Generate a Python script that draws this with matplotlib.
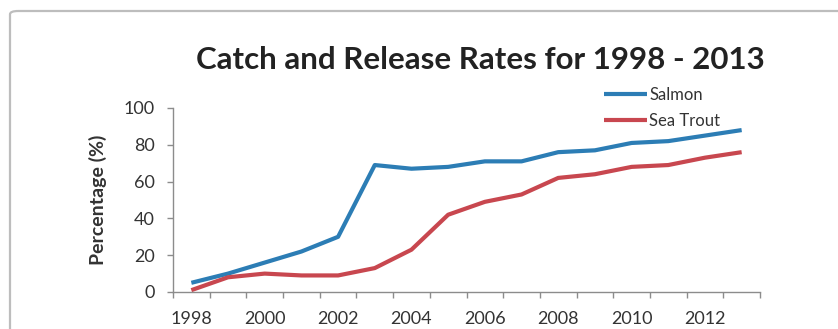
import numpy as np
import matplotlib
matplotlib.use("Agg")
import matplotlib.pyplot as plt
from matplotlib.patches import FancyBboxPatch

# data
years = [1998, 1999, 2000, 2001, 2002, 2003, 2004, 2005,
         2006, 2007, 2008, 2009, 2010, 2011, 2012, 2013]
salmon = [5, 10, 16, 22, 30, 69, 67, 68, 71, 71, 76, 77, 81, 82, 85, 88]
sea_trout = [1, 8, 10, 9, 9, 13, 23, 42, 49, 53, 62, 64, 68, 69, 73, 76]
series_names = ["Salmon", "Sea Trout"]
yticks = [0, 20, 40, 60, 80, 100]

plt.rcParams['font.family'] = ['Lato', 'DejaVu Sans']

W, H = 838, 329
fig = plt.figure(figsize=(W / 100, H / 100), dpi=100)

# chart area border (cropped screenshot: only top and left edges visible)
border = FancyBboxPatch((10 / W, -0.2), 1.2, 1 - 11 / H + 0.2,
                        boxstyle="round,pad=0,rounding_size=0.01",
                        transform=fig.transFigure, fill=False,
                        edgecolor="#bdbdbd", linewidth=1.6)
fig.patches.append(border)

ax = fig.add_axes([173 / W, 1 - 292 / H, (760 - 173) / W, (292 - 108) / H])

x = np.arange(len(years))
ax.plot(x, salmon, color="#2C7DB5", linewidth=3, label=series_names[0],
        solid_capstyle="butt")
ax.plot(x, sea_trout, color="#C8474F", linewidth=3, label=series_names[1],
        solid_capstyle="butt")

ax.set_xlim(-0.5, len(years) - 0.5)
ax.set_ylim(0, 100)
ax.set_yticks(yticks)
ax.set_yticklabels([str(v) for v in yticks], fontsize=13, color="#333333")

# category axis: tick marks between categories, labels every other year
ax.set_xticks(x[::2])
ax.set_xticklabels([str(y) for y in years[::2]], fontsize=13, color="#333333")
ax.tick_params(axis="x", which="major", length=0, pad=14)
ax.set_xticks(np.arange(len(years) + 1) - 0.5, minor=True)
ax.tick_params(axis="x", which="minor", length=4, width=1, color="#8c8c8c",
               direction="out")
ax.tick_params(axis="y", length=4, width=1, color="#8c8c8c", pad=9)

for s in ["top", "right"]:
    ax.spines[s].set_visible(False)
for s in ["left", "bottom"]:
    ax.spines[s].set_color("#8c8c8c")
    ax.spines[s].set_linewidth(1)

ax.set_ylabel("Percentage (%)", fontsize=14, fontweight="bold",
              color="#333333", labelpad=12)

fig.text(480 / W, 1 - 60 / H, "Catch and Release Rates for 1998 - 2013",
         ha="center", va="center", fontsize=22.5, fontweight="bold",
         color="#222222")

ax.legend(loc="upper left", bbox_to_anchor=((604 - 173) / (760 - 173), 1.115),
          frameon=False, fontsize=12, handlelength=2.6, handletextpad=0.1,
          labelspacing=0.6, borderaxespad=0, borderpad=0,
          labelcolor="#333333")

fig.savefig("out.png", dpi=100)
